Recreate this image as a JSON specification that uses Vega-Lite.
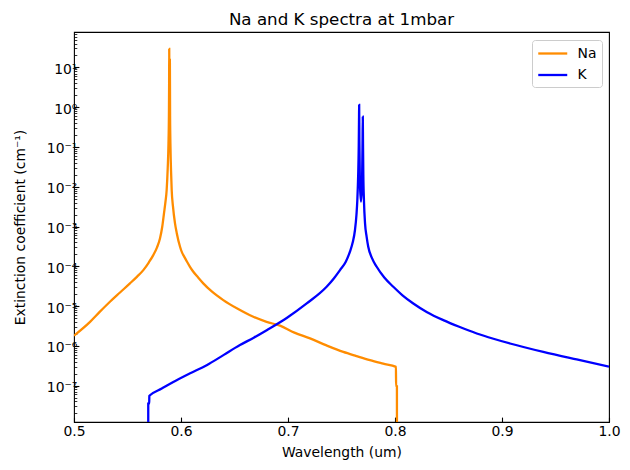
{
  "$schema": "https://vega.github.io/schema/vega-lite/v6.json",
  "width": 535,
  "height": 390,
  "autosize": {"type": "none"},
  "padding": {"left": 74, "top": 32, "right": 21, "bottom": 48},
  "background": "white",
  "config": {
    "view": {"stroke": "black", "strokeWidth": 1.1},
    "font": "DejaVu Sans",
    "axis": {"labelFont": "DejaVu Sans", "titleFont": "DejaVu Sans", "labelFontSize": 13.9, "titleFontSize": 13.9, "titleFontWeight": "normal", "labelColor": "black", "titleColor": "black", "tickColor": "black", "grid": false, "domain": false, "labelFlush": false, "labelOverlap": false}
  },
  "title": {"text": "Na and K spectra at 1mbar", "font": "DejaVu Sans", "fontSize": 16.7, "fontWeight": "normal", "color": "black", "anchor": "middle", "frame": "group", "offset": 0},
  "data": {"values": [
    {"s": "Na", "i": 1, "x": 0.5000, "y": 1.80e-6},
    {"s": "Na", "i": 2, "x": 0.5150, "y": 4.0e-6},
    {"s": "Na", "i": 3, "x": 0.5240, "y": 7.1e-6},
    {"s": "Na", "i": 4, "x": 0.5336, "y": 1.28e-5},
    {"s": "Na", "i": 5, "x": 0.5430, "y": 2.19e-5},
    {"s": "Na", "i": 6, "x": 0.5523, "y": 3.71e-5},
    {"s": "Na", "i": 7, "x": 0.5590, "y": 5.5e-5},
    {"s": "Na", "i": 8, "x": 0.5648, "y": 8.0e-5},
    {"s": "Na", "i": 9, "x": 0.5700, "y": 1.26e-4},
    {"s": "Na", "i": 10, "x": 0.5741, "y": 1.91e-4},
    {"s": "Na", "i": 11, "x": 0.5775, "y": 2.95e-4},
    {"s": "Na", "i": 12, "x": 0.5804, "y": 5.05e-4},
    {"s": "Na", "i": 13, "x": 0.5825, "y": 1.0e-3},
    {"s": "Na", "i": 14, "x": 0.5841, "y": 2.15e-3},
    {"s": "Na", "i": 15, "x": 0.5855, "y": 4.2e-3},
    {"s": "Na", "i": 16, "x": 0.5866, "y": 8.3e-3},
    {"s": "Na", "i": 17, "x": 0.5876, "y": 0.03},
    {"s": "Na", "i": 18, "x": 0.5883, "y": 0.12},
    {"s": "Na", "i": 19, "x": 0.5887, "y": 0.6},
    {"s": "Na", "i": 20, "x": 0.5889, "y": 4.0},
    {"s": "Na", "i": 21, "x": 0.5890, "y": 29.5},
    {"s": "Na", "i": 22, "x": 0.5892, "y": 1.5},
    {"s": "Na", "i": 23, "x": 0.5893, "y": 0.6},
    {"s": "Na", "i": 24, "x": 0.5895, "y": 2.5},
    {"s": "Na", "i": 25, "x": 0.5896, "y": 15.6},
    {"s": "Na", "i": 26, "x": 0.5898, "y": 0.6},
    {"s": "Na", "i": 27, "x": 0.5902, "y": 0.09},
    {"s": "Na", "i": 28, "x": 0.5907, "y": 0.025},
    {"s": "Na", "i": 29, "x": 0.5913, "y": 8.3e-3},
    {"s": "Na", "i": 30, "x": 0.5925, "y": 3.2e-3},
    {"s": "Na", "i": 31, "x": 0.5944, "y": 1.2e-3},
    {"s": "Na", "i": 32, "x": 0.5960, "y": 6.9e-4},
    {"s": "Na", "i": 33, "x": 0.5991, "y": 3.1e-4},
    {"s": "Na", "i": 34, "x": 0.6010, "y": 2.2e-4},
    {"s": "Na", "i": 35, "x": 0.6030, "y": 1.75e-4},
    {"s": "Na", "i": 36, "x": 0.6055, "y": 1.32e-4},
    {"s": "Na", "i": 37, "x": 0.6084, "y": 9.7e-5},
    {"s": "Na", "i": 38, "x": 0.6110, "y": 7.6e-5},
    {"s": "Na", "i": 39, "x": 0.6160, "y": 5.2e-5},
    {"s": "Na", "i": 40, "x": 0.6208, "y": 3.71e-5},
    {"s": "Na", "i": 41, "x": 0.6290, "y": 2.29e-5},
    {"s": "Na", "i": 42, "x": 0.6395, "y": 1.41e-5},
    {"s": "Na", "i": 43, "x": 0.6530, "y": 8.5e-6},
    {"s": "Na", "i": 44, "x": 0.6676, "y": 5.35e-6},
    {"s": "Na", "i": 45, "x": 0.6800, "y": 4.0e-6},
    {"s": "Na", "i": 46, "x": 0.6925, "y": 3.2e-6},
    {"s": "Na", "i": 47, "x": 0.7060, "y": 2.14e-6},
    {"s": "Na", "i": 48, "x": 0.7206, "y": 1.53e-6},
    {"s": "Na", "i": 49, "x": 0.7360, "y": 1.02e-6},
    {"s": "Na", "i": 50, "x": 0.7517, "y": 7.0e-7},
    {"s": "Na", "i": 51, "x": 0.7640, "y": 5.5e-7},
    {"s": "Na", "i": 52, "x": 0.7766, "y": 4.34e-7},
    {"s": "Na", "i": 53, "x": 0.7890, "y": 3.55e-7},
    {"s": "Na", "i": 54, "x": 0.8009, "y": 2.95e-7},
    {"s": "Na", "i": 55, "x": 0.8010, "y": 9.5e-8},
    {"s": "Na", "i": 56, "x": 0.8018, "y": 9.5e-8},
    {"s": "Na", "i": 57, "x": 0.8019, "y": 1e-12},
    {"s": "K", "i": 101, "x": 0.56935, "y": 1e-12},
    {"s": "K", "i": 102, "x": 0.5694, "y": 3.5e-8},
    {"s": "K", "i": 103, "x": 0.5703, "y": 3.5e-8},
    {"s": "K", "i": 104, "x": 0.5704, "y": 5.5e-8},
    {"s": "K", "i": 105, "x": 0.5710, "y": 5.7e-8},
    {"s": "K", "i": 106, "x": 0.5820, "y": 8.4e-8},
    {"s": "K", "i": 107, "x": 0.5928, "y": 1.23e-7},
    {"s": "K", "i": 108, "x": 0.6080, "y": 2.0e-7},
    {"s": "K", "i": 109, "x": 0.6240, "y": 3.24e-7},
    {"s": "K", "i": 110, "x": 0.6400, "y": 5.9e-7},
    {"s": "K", "i": 111, "x": 0.6551, "y": 1.04e-6},
    {"s": "K", "i": 112, "x": 0.6680, "y": 1.6e-6},
    {"s": "K", "i": 113, "x": 0.6801, "y": 2.47e-6},
    {"s": "K", "i": 114, "x": 0.6988, "y": 5.0e-6},
    {"s": "K", "i": 115, "x": 0.7175, "y": 1.16e-5},
    {"s": "K", "i": 116, "x": 0.7361, "y": 3.05e-5},
    {"s": "K", "i": 117, "x": 0.7430, "y": 5.0e-5},
    {"s": "K", "i": 118, "x": 0.7486, "y": 8.0e-5},
    {"s": "K", "i": 119, "x": 0.7540, "y": 1.3e-4},
    {"s": "K", "i": 120, "x": 0.7579, "y": 2.34e-4},
    {"s": "K", "i": 121, "x": 0.7605, "y": 4.0e-4},
    {"s": "K", "i": 122, "x": 0.7626, "y": 8.17e-4},
    {"s": "K", "i": 123, "x": 0.7640, "y": 2.0e-3},
    {"s": "K", "i": 124, "x": 0.7648, "y": 4.66e-3},
    {"s": "K", "i": 125, "x": 0.7656, "y": 0.02},
    {"s": "K", "i": 126, "x": 0.7661, "y": 0.1},
    {"s": "K", "i": 127, "x": 0.7664, "y": 0.6},
    {"s": "K", "i": 128, "x": 0.7665, "y": 1.15},
    {"s": "K", "i": 129, "x": 0.7667, "y": 0.15},
    {"s": "K", "i": 130, "x": 0.7672, "y": 0.0126},
    {"s": "K", "i": 131, "x": 0.7682, "y": 4.2e-3},
    {"s": "K", "i": 132, "x": 0.7692, "y": 0.0126},
    {"s": "K", "i": 133, "x": 0.7697, "y": 0.16},
    {"s": "K", "i": 134, "x": 0.7699, "y": 0.58},
    {"s": "K", "i": 135, "x": 0.7701, "y": 0.126},
    {"s": "K", "i": 136, "x": 0.7704, "y": 0.02},
    {"s": "K", "i": 137, "x": 0.7710, "y": 4.4e-3},
    {"s": "K", "i": 138, "x": 0.7720, "y": 1.2e-3},
    {"s": "K", "i": 139, "x": 0.7735, "y": 5.5e-4},
    {"s": "K", "i": 140, "x": 0.7750, "y": 3.1e-4},
    {"s": "K", "i": 141, "x": 0.7785, "y": 1.6e-4},
    {"s": "K", "i": 142, "x": 0.7829, "y": 9.7e-5},
    {"s": "K", "i": 143, "x": 0.7900, "y": 5.2e-5},
    {"s": "K", "i": 144, "x": 0.7984, "y": 3.05e-5},
    {"s": "K", "i": 145, "x": 0.8070, "y": 1.86e-5},
    {"s": "K", "i": 146, "x": 0.8171, "y": 1.16e-5},
    {"s": "K", "i": 147, "x": 0.8300, "y": 7.0e-6},
    {"s": "K", "i": 148, "x": 0.8451, "y": 4.42e-6},
    {"s": "K", "i": 149, "x": 0.8600, "y": 3.0e-6},
    {"s": "K", "i": 150, "x": 0.8764, "y": 2.04e-6},
    {"s": "K", "i": 151, "x": 0.8920, "y": 1.5e-6},
    {"s": "K", "i": 152, "x": 0.9075, "y": 1.14e-6},
    {"s": "K", "i": 153, "x": 0.9386, "y": 7.0e-7},
    {"s": "K", "i": 154, "x": 0.9698, "y": 4.52e-7},
    {"s": "K", "i": 155, "x": 1.0000, "y": 3.0e-7}
  ]},
  "mark": {"type": "line", "strokeWidth": 2.3, "clip": true, "interpolate": "monotone"},
  "encoding": {
    "x": {"field": "x", "type": "quantitative", "title": "Wavelength (um)",
      "scale": {"domain": [0.5, 1.0], "nice": false, "zero": false},
      "axis": {"values": [0.5, 0.6, 0.7, 0.8, 0.9, 1.0], "format": ".1f", "tickSize": -4.9, "tickWidth": 1.1, "labelPadding": 7, "titlePadding": 7}},
    "y": {"field": "y", "type": "quantitative", "title": "Extinction coefficient (cm⁻¹)",
      "scale": {"type": "log", "domain": [1.21e-8, 78], "nice": false},
      "axis": {
        "values": [2e-8, 3e-8, 4e-8, 5e-8, 6e-8, 7e-8, 8e-8, 9e-8, 1e-7, 2e-7, 3e-7, 4e-7, 5e-7, 6e-7, 7e-7, 8e-7, 9e-7, 1e-6, 2e-6, 3e-6, 4e-6, 5e-6, 6e-6, 7e-6, 8e-6, 9e-6, 1e-5, 2e-5, 3e-5, 4e-5, 5e-5, 6e-5, 7e-5, 8e-5, 9e-5, 1e-4, 2e-4, 3e-4, 4e-4, 5e-4, 6e-4, 7e-4, 8e-4, 9e-4, 0.001, 0.002, 0.003, 0.004, 0.005, 0.006, 0.007, 0.008, 0.009, 0.01, 0.02, 0.03, 0.04, 0.05, 0.06, 0.07, 0.08, 0.09, 0.1, 0.2, 0.3, 0.4, 0.5, 0.6, 0.7, 0.8, 0.9, 1, 2, 3, 4, 5, 6, 7, 8, 9, 10, 20, 30, 40, 50, 60, 70],
        "labelExpr": "abs(log(datum.value)/LN10 - round(log(datum.value)/LN10)) > 0.001 ? '' : (round(log(datum.value)/LN10) == 1 ? '10¹' : round(log(datum.value)/LN10) == 0 ? '10⁰' : round(log(datum.value)/LN10) == -1 ? '10⁻¹' : round(log(datum.value)/LN10) == -2 ? '10⁻²' : round(log(datum.value)/LN10) == -3 ? '10⁻³' : round(log(datum.value)/LN10) == -4 ? '10⁻⁴' : round(log(datum.value)/LN10) == -5 ? '10⁻⁵' : round(log(datum.value)/LN10) == -6 ? '10⁻⁶' : round(log(datum.value)/LN10) == -7 ? '10⁻⁷' : '10⁻⁸')",
        "tickSize": {"condition": {"test": "abs(log(datum.value)/LN10 - round(log(datum.value)/LN10)) < 0.001", "value": -4.9}, "value": -2.8},
        "tickWidth": {"condition": {"test": "abs(log(datum.value)/LN10 - round(log(datum.value)/LN10)) < 0.001", "value": 1.1}, "value": 0.8},
        "labelPadding": 2,
        "labelOffset": 2,
        "titlePadding": 19
      }},
    "color": {"field": "s", "type": "nominal",
      "scale": {"domain": ["Na", "K"], "range": ["#ff8c00", "#0000ff"]},
      "legend": {"title": null, "orient": "top-right", "offset": 7.5, "symbolType": "M-1,0H3", "symbolSize": 210, "symbolStrokeWidth": 2.3, "symbolFillColor": "transparent", "labelFont": "DejaVu Sans", "labelFontSize": 13.9, "labelColor": "black", "labelOffset": 23.5, "rowPadding": 5.5, "padding": 5, "strokeColor": "#cccccc", "cornerRadius": 3, "fillColor": "rgba(255,255,255,0.8)"}},
    "order": {"field": "i", "type": "quantitative"}
  }
}
